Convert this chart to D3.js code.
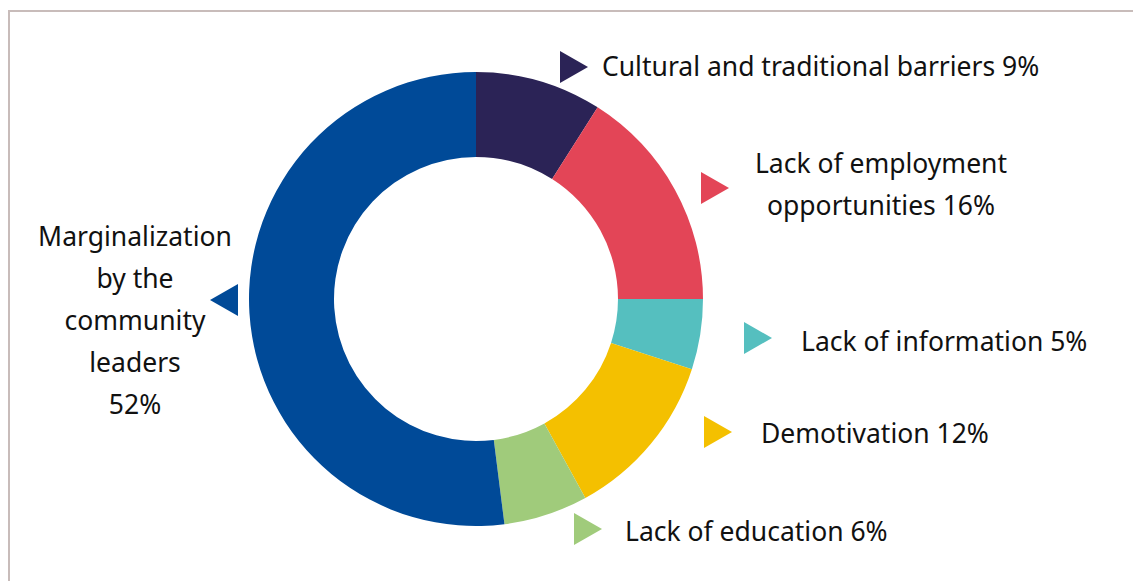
<!DOCTYPE html>
<html>
<head>
<meta charset="utf-8">
<script src="https://cdn.jsdelivr.net/npm/d3@7/dist/d3.min.js"></script>
<style>
  html, body { margin: 0; padding: 0; background: #fff; }
  svg { display: block; }
  text { font-family: "Noto Sans", "Open Sans", sans-serif; fill: #111; }
</style>
</head>
<body>
<svg id="chart" width="1133" height="581"></svg>
<script>
// Reasons, in clockwise order from 12 o'clock
const categories = [
  "Cultural and traditional barriers",
  "Lack of employment opportunities",
  "Lack of information",
  "Demotivation",
  "Lack of education",
  "Marginalization by the community leaders"
];
const shares = [9, 16, 5, 12, 6, 52];
const colors = ["#2b2356", "#e34557", "#55bfbf", "#f4c000", "#a0cb7b", "#004a98"];
// Label lines as displayed beside each marker
const labelLines = [
  ["Cultural and traditional barriers 9%"],
  ["Lack of employment", "opportunities 16%"],
  ["Lack of information 5%"],
  ["Demotivation 12%"],
  ["Lack of education 6%"],
  ["Marginalization", "by the", "community", "leaders", "52%"]
];

const svg = d3.select("#chart");

// light frame around the panel
svg.append("rect")
  .attr("x", 9).attr("y", 11)
  .attr("width", 1140).attr("height", 600)
  .attr("fill", "none")
  .attr("stroke", "#c8bcba")
  .attr("stroke-width", 2);

const cx = 476, cy = 299;
const outerR = 227, innerR = 142;

const pie = d3.pie().sort(null).value(d => d.value);
const arcs = pie(categories.map((c, i) => ({ name: c, value: shares[i], color: colors[i] })));
const arc = d3.arc().innerRadius(innerR).outerRadius(outerR);

svg.append("g")
  .attr("transform", `translate(${cx},${cy})`)
  .selectAll("path")
  .data(arcs)
  .join("path")
  .attr("d", arc)
  .attr("fill", d => d.data.color);

// Marker + label placement for each slice
const layout = [
  { tri: [560, 67], dir: 1, tx: 602, ty: 76, anchor: "start" },
  { tri: [701, 188], dir: 1, tx: 881, ty: 173, anchor: "middle" },
  { tri: [744, 338], dir: 1, tx: 801, ty: 351, anchor: "start" },
  { tri: [704, 432], dir: 1, tx: 761, ty: 443, anchor: "start" },
  { tri: [574, 529], dir: 1, tx: 625, ty: 541, anchor: "start" },
  { tri: [238, 300], dir: -1, tx: 135, ty: 246, anchor: "middle" }
];
const triW = 28, triH = 32, lineGap = 42;

const labels = svg.append("g");
layout.forEach((p, i) => {
  const [x0, y0] = p.tri;
  const pts = [[x0, y0 - triH / 2], [x0 + p.dir * triW, y0], [x0, y0 + triH / 2]];
  labels.append("path")
    .attr("d", d3.line()(pts) + "Z")
    .attr("fill", colors[i]);
  const t = labels.append("text")
    .attr("text-anchor", p.anchor)
    .attr("font-size", 26.5);
  labelLines[i].forEach((ln, j) => {
    t.append("tspan").attr("x", p.tx).attr("y", p.ty + j * lineGap).text(ln);
  });
});
</script>
</body>
</html>
